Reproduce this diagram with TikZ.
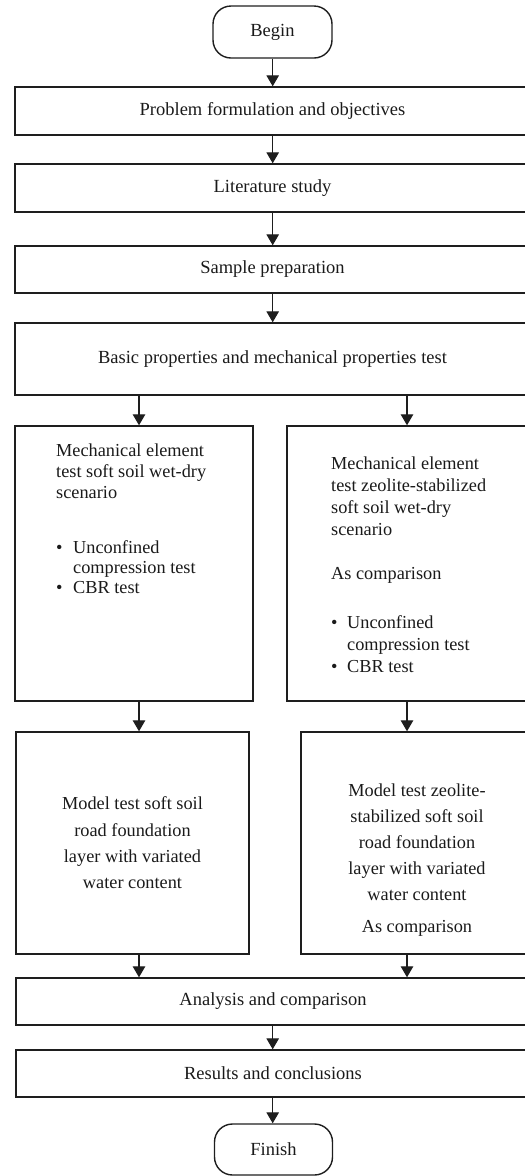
\documentclass[tikz,border=0pt]{standalone}
\usepackage{fontspec}
\setmainfont{Liberation Serif}
\usetikzlibrary{arrows.meta}
\definecolor{linec}{HTML}{1E1E1E}
\definecolor{txtc}{HTML}{1A1A1A}
\begin{document}
\begin{tikzpicture}[x=1pt,y=-1pt,
  box/.style={draw=linec, line width=1.4pt, rectangle, inner sep=0pt, text=txtc,
    align=center, font=\fontsize{18.5}{21.5}\selectfont},
  term/.style={box, rounded corners=18pt},
  txt/.style={inner sep=0pt, text=txtc, align=left},
  arr/.style={draw=linec, line width=1.2pt, -{Triangle[width=12.5pt,length=11pt]}}]
\useasboundingbox (0,0) rectangle (525,1176);
\clip (0,0) rectangle (525,1176);
\coordinate (cm) at (272.7,0);
\coordinate (cl) at (139,0);
\coordinate (cr) at (407,0);
\node[term, minimum width=119pt, minimum height=52pt] (begin) at (272.5,32) {Begin};
\node[box, minimum width=515pt, minimum height=48pt] (p1) at (272.5,111) {Problem formulation and objectives};
\node[box, minimum width=515pt, minimum height=48pt] (p2) at (272.5,188) {Literature study};
\node[box, minimum width=515pt, minimum height=47pt] (p3) at (272.5,269.5) {Sample preparation};
\node[box, minimum width=515pt, minimum height=72pt] (p4) at (272.5,359) {Basic properties and mechanical properties test};
\node[box, minimum width=238pt, minimum height=275pt] (l1) at (134,563.5) {};
\node[box, minimum width=240pt, minimum height=275pt] (r1) at (407,563.5) {};
\node[txt, anchor=north west, font=\fontsize{18.3}{21}\selectfont] (l1t) at (56,443.5)
  {Mechanical element\\test soft soil wet-dry\\scenario\\[34pt]
   \makebox[17pt][l]{\textbullet}Unconfined\\[-1pt]
   \hspace*{17pt}compression test\\[-1pt]
   \makebox[17pt][l]{\textbullet}CBR test};
\node[txt, anchor=north west, font=\fontsize{18.3}{22}\selectfont] (r1t) at (331,456.5)
  {Mechanical element\\test zeolite-stabilized\\soft soil wet-dry\\scenario\\[22pt]
   As comparison\\[27pt]
   \makebox[16pt][l]{\textbullet}Unconfined\\
   \hspace*{16pt}compression test\\
   \makebox[16pt][l]{\textbullet}CBR test};
\node[box, minimum width=233pt, minimum height=222pt, font=\fontsize{18.3}{26.3}\selectfont] (l2) at (132.5,843)
  {Model test soft soil\\road foundation\\layer with variated\\water content};
\node[box, minimum width=232pt, minimum height=222pt] (r2) at (417,843) {};
\node[txt, align=center, font=\fontsize{18.3}{26}\selectfont] (r2t) at (417,860.5)
  {Model test zeolite-\\stabilized soft soil\\road foundation\\layer with variated\\water content\\[6pt]As comparison};
\node[box, minimum width=514pt, minimum height=47pt] (p5) at (273,1001.5) {Analysis and comparison};
\node[box, minimum width=514pt, minimum height=47pt] (p6) at (273,1073.5) {Results and conclusions};
\node[term, minimum width=118pt, minimum height=51pt] (finish) at (273.5,1149.5) {Finish};
\draw[arr] (begin.south -| cm) -- (p1.north -| cm);
\draw[arr] (p1.south -| cm) -- (p2.north -| cm);
\draw[arr] (p2.south -| cm) -- (p3.north -| cm);
\draw[arr] (p3.south -| cm) -- (p4.north -| cm);
\draw[arr] (p4.south -| cl) -- (l1.north -| cl);
\draw[arr] (p4.south -| cr) -- (r1.north -| cr);
\draw[arr] (l1.south -| cl) -- (l2.north -| cl);
\draw[arr] (r1.south -| cr) -- (r2.north -| cr);
\draw[arr] (l2.south -| cl) -- (p5.north -| cl);
\draw[arr] (r2.south -| cr) -- (p5.north -| cr);
\draw[arr] (p5.south -| cm) -- (p6.north -| cm);
\draw[arr] (p6.south -| cm) -- (finish.north -| cm);
\end{tikzpicture}
\end{document}
